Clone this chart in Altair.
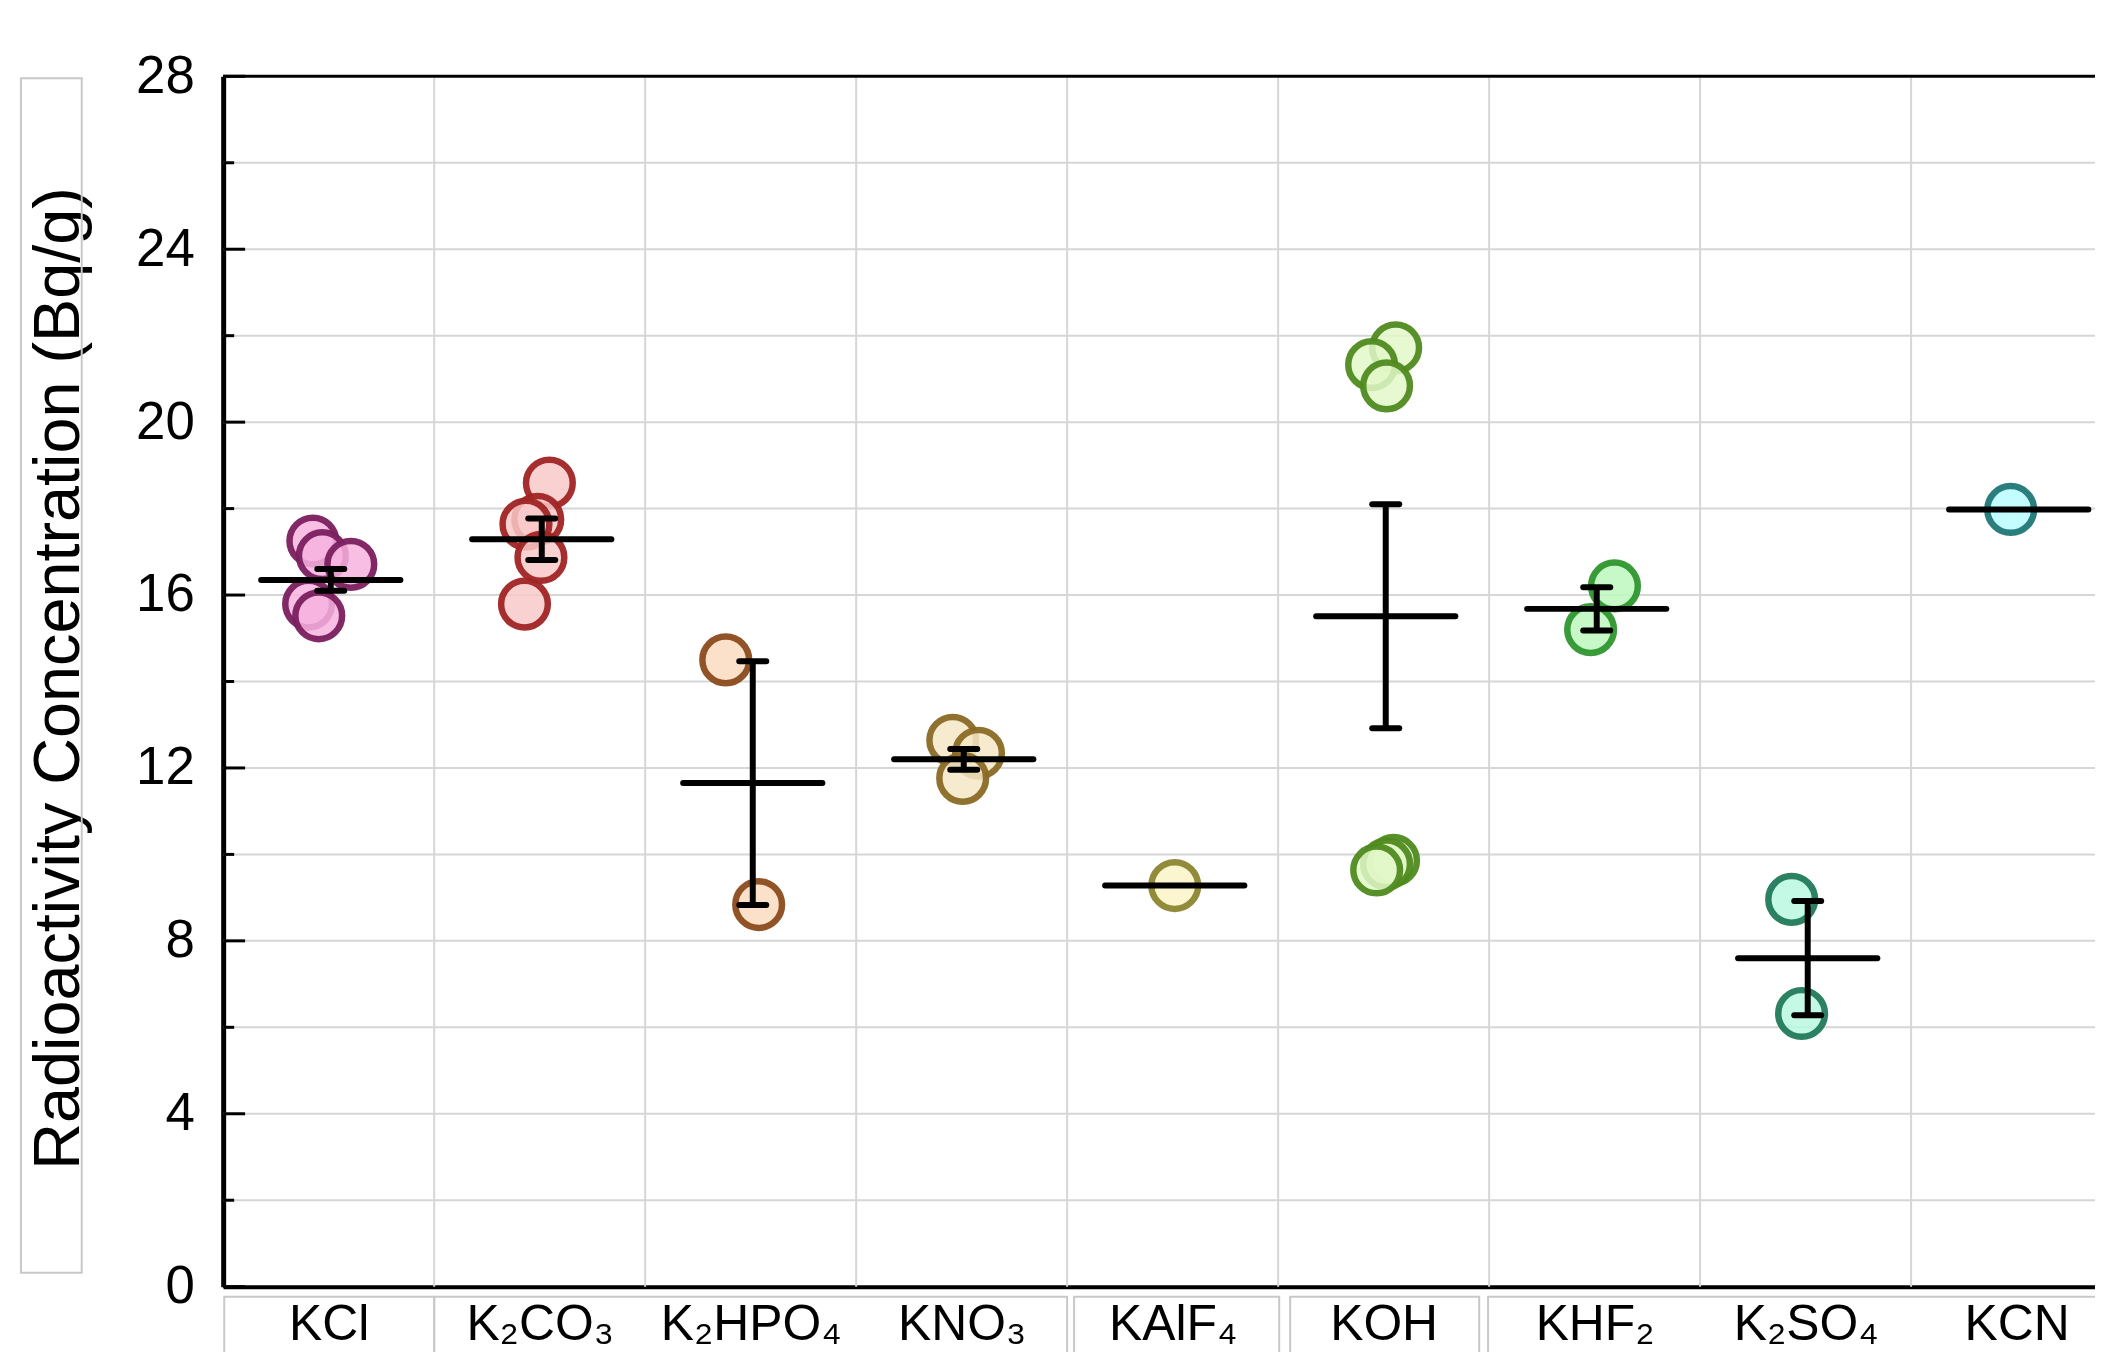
import altair as alt
import pandas as pd

FONT = "Liberation Sans, Arial, sans-serif"

# ---------------- data ----------------
categories = ["KCl", "K₂CO₃", "K₂HPO₄", "KNO₃", "KAlF₄", "KOH", "KHF₂", "K₂SO₄", "KCN"]
fill_colors = ["#f7b3df", "#f9c9c9", "#fadcc0", "#f5e8c5", "#fbf5c8",
               "#e2f8c8", "#bdf7bd", "#b8f8e0", "#b8fdff"]
stroke_colors = ["#7a1f5e", "#a02424", "#8b4a1c", "#8a6a25", "#8c8530",
                 "#4f8a1f", "#2e962e", "#217a5a", "#217777"]

point_cat = [0, 0, 0, 0, 0,
             1, 1, 1, 1, 1,
             2, 2,
             3, 3, 3,
             4,
             5, 5, 5, 5, 5, 5,
             6, 6,
             7, 7,
             8]
point_val = [17.25, 16.91, 16.71, 15.79, 15.52,
             18.59, 17.75, 17.64, 16.87, 15.79,
             14.50, 8.84,
             12.64, 12.34, 11.76,
             9.28,
             21.72, 21.33, 20.84, 9.86, 9.78, 9.64,
             16.21, 15.20,
             8.96, 6.32,
             17.98]
point_jitter = [-0.075, -0.03, 0.105, -0.095, -0.047,
                0.046, -0.009, -0.065, 0.006, -0.072,
                -0.118, 0.038,
                -0.042, 0.08, 0.005,
                0.01,
                0.057, -0.057, 0.014, 0.047, 0.014, -0.033,
                0.094, -0.019,
                -0.066, -0.019,
                -0.028]

means = [16.35, 17.29, 11.65, 12.20, 9.28, 15.51, 15.68, 7.60, 17.98]
errors = [0.25, 0.48, 2.82, 0.24, 0.0, 2.59, 0.50, 1.32, 0.0]

y_major = [0, 4, 8, 12, 16, 20, 24, 28]
y_minor = [2, 6, 10, 14, 18, 22, 26]
y_grid = [2, 4, 6, 8, 10, 12, 14, 16, 18, 20, 22, 24, 26]
x_bounds = [0.5, 1.5, 2.5, 3.5, 4.5, 5.5, 6.5, 7.5]
label_boxes_lo = [-0.495, 0.5, 3.533, 4.557, 5.495]
label_boxes_hi = [0.5, 3.5, 4.505, 5.453, 8.6]

# ---------------- tables ----------------
pts = pd.DataFrame({
    "cat": [categories[i] for i in point_cat],
    "idx": point_cat,
    "val": point_val,
    "jit": point_jitter,
})
pts["x"] = pts["idx"] + pts["jit"]

stats = pd.DataFrame({"cat": categories, "idx": list(range(len(categories))),
                      "mean": means, "err": errors})
stats["xc"] = stats["idx"] + 0.01
stats["m1"] = stats["xc"] - 0.33
stats["m2"] = stats["xc"] + 0.33
stats["c1"] = stats["xc"] - 0.064
stats["c2"] = stats["xc"] + 0.064
stats["lo"] = stats["mean"] - stats["err"]
stats["hi"] = stats["mean"] + stats["err"]
errs = stats[stats["err"] > 0]

W, H = 1879, 1215
XMAX = -0.5 + W / 211.8

xscale = alt.Scale(domain=[-0.5, XMAX], nice=False, zero=False)
yscale = alt.Scale(domain=[0, 28], nice=False, zero=False)

label_expr = "[" + ",".join("'" + c + "'" for c in categories) + "][datum.value]"
xaxis = alt.Axis(values=list(range(len(categories))), labelExpr=label_expr,
                 title=None, ticks=False, grid=False, domainColor="black",
                 domainWidth=4, labelFontSize=50, labelFont=FONT, labelColor="black",
                 labelPadding=13, labelFlush=False, labelOverlap=False, labelLimit=0)
yaxis = alt.Axis(values=y_major, ticks=False, grid=False, domainColor="black",
                 domainWidth=5, labelFontSize=53, labelFont=FONT, labelColor="black",
                 labelPadding=29, labelFlush=False, labelOverlap=False,
                 title="Radioactivity Concentration (Bq/g)", titleFontSize=65,
                 titleFont=FONT, titleFontWeight="normal", titleColor="black",
                 titleAngle=270, titleX=-165, titleY=604, titleAlign="center",
                 titleBaseline="middle")


def X(field, **kw):
    return alt.X(field, type="quantitative", scale=xscale, axis=xaxis, **kw)


def Y(field, **kw):
    return alt.Y(field, type="quantitative", scale=yscale, axis=yaxis, **kw)


vgrid = alt.Chart(pd.DataFrame({"b": x_bounds})).mark_rule(
    color="#d6d6d6", strokeWidth=2).encode(x=X("b"))
hgrid = alt.Chart(pd.DataFrame({"g": y_grid})).mark_rule(
    color="#d6d6d6", strokeWidth=2).encode(y=Y("g"))

points = alt.Chart(pts).mark_point(
    shape="circle", filled=True, size=2200, strokeWidth=6.5,
    fillOpacity=0.85, strokeOpacity=0.95).encode(
    x=X("x"), y=Y("val"),
    fill=alt.Fill("cat:N", scale=alt.Scale(domain=categories, range=fill_colors), legend=None),
    stroke=alt.Stroke("cat:N", scale=alt.Scale(domain=categories, range=stroke_colors), legend=None),
)

mean_lines = alt.Chart(stats).mark_rule(color="black", strokeWidth=6, strokeCap="round").encode(
    x=X("m1"), x2="m2", y=Y("mean"))
err_bars = alt.Chart(errs).mark_rule(color="black", strokeWidth=6).encode(
    x=X("xc"), y=Y("lo"), y2="hi")
cap_lo = alt.Chart(errs).mark_rule(color="black", strokeWidth=6, strokeCap="round").encode(
    x=X("c1"), x2="c2", y=Y("lo"))
cap_hi = alt.Chart(errs).mark_rule(color="black", strokeWidth=6, strokeCap="round").encode(
    x=X("c1"), x2="c2", y=Y("hi"))

major_ticks = alt.Chart(pd.DataFrame({"t": y_major})).mark_rule(
    color="black", strokeWidth=3).encode(x=alt.value(0), x2=alt.value(22), y=Y("t"))
minor_ticks = alt.Chart(pd.DataFrame({"t": y_minor})).mark_rule(
    color="black", strokeWidth=3).encode(x=alt.value(0), x2=alt.value(11), y=Y("t"))
top_frame = alt.Chart(pd.DataFrame({"t": [28]})).mark_rule(
    color="black", strokeWidth=3).encode(y=Y("t"))

label_box = alt.Chart(pd.DataFrame({"a": label_boxes_lo, "b": label_boxes_hi})).mark_rect(
    fill="white", fillOpacity=0, stroke="#c8c8c8", strokeWidth=2).encode(
    x=X("a"), x2="b", y=alt.value(H + 10), y2=alt.value(H + 75))

title_box = alt.Chart(pd.DataFrame({"k": [0]})).mark_rect(
    fill="white", fillOpacity=0, stroke="#c8c8c8", strokeWidth=2).encode(
    x=alt.value(-203), x2=alt.value(-142), y=alt.value(2), y2=alt.value(1201))

chart = alt.layer(
    vgrid, hgrid, label_box, title_box, points, mean_lines, err_bars, cap_lo, cap_hi,
    major_ticks, minor_ticks, top_frame,
).properties(
    width=W, height=H,
    autosize=alt.AutoSizeParams(type="none"),
    padding={"left": 216, "top": 66, "right": 0, "bottom": 63},
    background="white",
).configure_view(stroke=None)

chart.save("out.html", embed_options={"renderer": "svg", "actions": False})
